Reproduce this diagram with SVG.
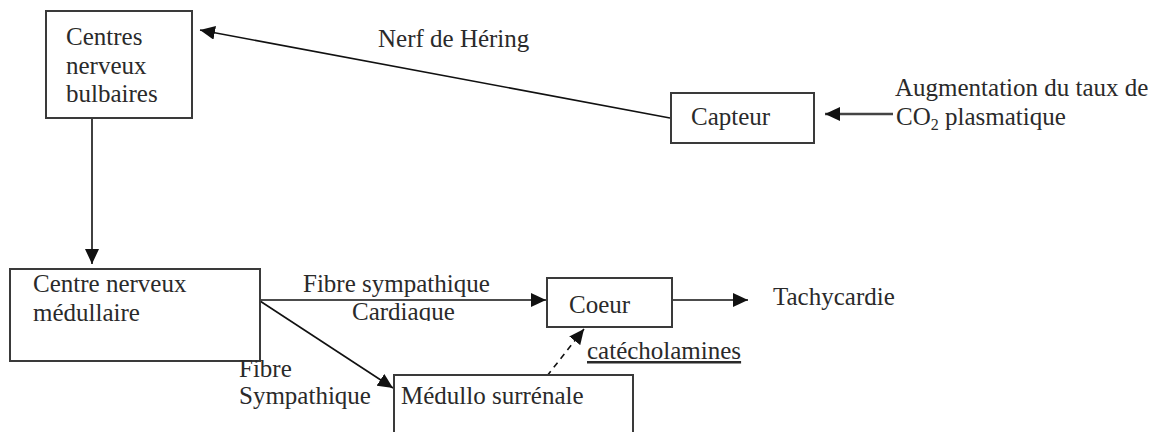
<svg xmlns="http://www.w3.org/2000/svg" width="1156" height="432" viewBox="0 0 1156 432">
<style>
.box{fill:#fff;stroke:#3a3a3a;stroke-width:2}
.t{font-family:"Liberation Serif","Times New Roman",serif;font-size:25px;fill:#2a2a2a}
.ln{stroke:#111;stroke-width:1.6;fill:none}
</style>
<defs>
<marker id="ah" markerUnits="userSpaceOnUse" markerWidth="16" markerHeight="14" refX="15" refY="7" orient="auto">
<path d="M0,0 L15,7 L0,14 Z" fill="#111"/>
</marker>
<clipPath id="cardClip"><rect x="300" y="295" width="200" height="26"/></clipPath>
</defs>
<rect width="1156" height="432" fill="#fff"/>
<g id="connectors">
<line class="ln" x1="670" y1="118" x2="200" y2="30" marker-end="url(#ah)"/>
<line class="ln" x1="92" y1="118" x2="92" y2="264" marker-end="url(#ah)"/>
<line class="ln" x1="260" y1="300" x2="546" y2="300" marker-end="url(#ah)"/>
<line class="ln" x1="260" y1="301" x2="393" y2="388" marker-end="url(#ah)"/>
<line class="ln" x1="672" y1="300" x2="748" y2="300" marker-end="url(#ah)"/>
<line x1="893" y1="114" x2="825" y2="114" stroke="#444" stroke-width="2.4" marker-end="url(#ah)"/>
<line class="ln" x1="547" y1="376" x2="584" y2="329" stroke-dasharray="6,5" marker-end="url(#ah)"/>
</g>
<g id="n-bulbaires">
<rect class="box" x="46" y="11" width="146" height="107"/>
<text class="t" x="66" y="45">Centres</text>
<text class="t" x="66" y="74">nerveux</text>
<text class="t" x="66" y="102">bulbaires</text>
</g>
<g id="n-capteur">
<rect class="box" x="671" y="93" width="143" height="50"/>
<text class="t" x="691" y="125">Capteur</text>
</g>
<g id="n-stimulus">
<text class="t" x="895" y="96">Augmentation du taux de</text>
<text class="t" x="896" y="125">CO<tspan font-size="16" dy="5">2</tspan><tspan dy="-5"> plasmatique</tspan></text>
</g>
<g id="n-medullaire">
<rect class="box" x="10" y="269" width="250" height="92"/>
<text class="t" x="33" y="292">Centre nerveux</text>
<text class="t" x="33" y="321">médullaire</text>
</g>
<g id="n-coeur">
<rect class="box" x="547" y="278" width="125" height="49"/>
<text class="t" x="569" y="313">Coeur</text>
</g>
<g id="n-tachycardie">
<text class="t" x="773" y="305">Tachycardie</text>
</g>
<g id="n-medullo">
<rect class="box" x="394" y="375" width="239" height="80"/>
<text class="t" x="401" y="404">Médullo surrénale</text>
</g>
<g id="labels">
<text class="t" x="378" y="47">Nerf de Héring</text>
<text class="t" x="303" y="292">Fibre sympathique</text>
<text class="t" x="352" y="320" clip-path="url(#cardClip)">Cardiaque</text>
<text class="t" x="239" y="377">Fibre</text>
<text class="t" x="239" y="404">Sympathique</text>
<text class="t" x="587" y="359" text-decoration="underline">catécholamines</text>
</g>
</svg>
